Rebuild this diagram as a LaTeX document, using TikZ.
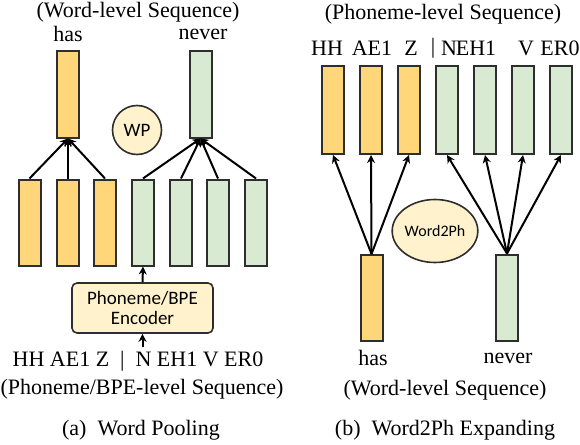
\documentclass[tikz,border=0pt]{standalone}
\usepackage{fontspec}
\setmainfont{Liberation Serif}
\newfontfamily\boxfont{Carlito}
\usepackage{tikz}
\usetikzlibrary{arrows.meta,positioning,shapes.geometric}
\definecolor{wordor}{HTML}{FFD67A}
\definecolor{phongr}{HTML}{D9EAD3}
\definecolor{poolfill}{HTML}{FFF2CC}
\definecolor{gris}{HTML}{2E2E2E}
\tikzset{
  bar/.style={draw=gris,line width=2pt,minimum width=22pt,minimum height=86pt,inner sep=0pt},
  orbar/.style={bar,fill=wordor},
  grbar/.style={bar,fill=phongr},
  conn/.style={-{Stealth[length=8pt,width=8pt]},line width=2pt},
  poolop/.style={draw=gris,line width=1.6pt,fill=poolfill,inner sep=0pt,font=\boxfont\fontsize{19}{22}\selectfont}
}
\newcommand{\bigtxt}{\fontsize{22}{26}\selectfont}

\begin{document}
\begin{tikzpicture}[x=1pt,y=-1pt,font=\bigtxt]
    \useasboundingbox (0,0) rectangle (580,444);
    % (a) word pooling
    \begin{scope}
      \node[orbar] (lh) at (68,94.5) {};
      \node[grbar] (ln) at (200.5,94.5) {};
      \node (lhas) at (68,34) {has};
      \node (lnever) at (203,34) {never};
      \node (ltop) at (138,12) {(Word-level Sequence)};
      \node[orbar] (lb1) at (29.5,222.5) {};
      \node[orbar] (lb2) at (68,222.5) {};
      \node[orbar] (lb3) at (105,222.5) {};
      \node[grbar] (lb4) at (143,222.5) {};
      \node[grbar] (lb5) at (181,222.5) {};
      \node[grbar] (lb6) at (218,222.5) {};
      \node[grbar] (lb7) at (256,222.5) {};
      \node[poolop,circle,minimum size=49pt] (wp) at (137,130) {WP};
      \foreach \i in {1,2,3} \draw[conn] (lb\i.north) -- (lh.south);
      \foreach \i in {4,5,6,7} \draw[conn] (lb\i.north) -- (ln.south);
      \node[poolop,rounded corners=5pt,minimum width=141pt,minimum height=50pt,align=center] (enc) at (142.5,308) {Phoneme/BPE\\[-2pt]Encoder};
      \node (lseq) at (138,361) {HH AE1 Z~~|~~N EH1 V ER0};
      \node (lcap) at (142,389) {(Phoneme/BPE-level Sequence)};
      \draw[conn] (enc.north) -- (lb4.south);
      \draw[conn] (enc.south |- lseq.north) -- (enc.south);
      \node (capa) at (141,430) {(a)\enspace Word Pooling};
    \end{scope}
    % (b) word2ph expanding
    \begin{scope}
      \node (rtop) at (443,14) {(Phoneme-level Sequence)};
      \node[orbar,minimum height=88pt] (rp1) at (333,110) {};
      \node[orbar,minimum height=88pt] (rp2) at (371,110) {};
      \node[orbar,minimum height=88pt] (rp3) at (409,110) {};
      \node[grbar,minimum height=88pt] (rp4) at (447,110) {};
      \node[grbar,minimum height=88pt] (rp5) at (485,110) {};
      \node[grbar,minimum height=88pt] (rp6) at (523,110) {};
      \node[grbar,minimum height=88pt] (rp7) at (561,110) {};
      \node (phhh) at (327,48) {HH};
      \node (phae) at (372,48) {AE1};
      \node (phz) at (411,48) {Z};
      \node (phsep) at (433,48) {|};
      \node (phn) at (449,48) {N};
      \node (pheh) at (476,48) {EH1};
      \node (phv) at (526,48) {V};
      \node (pher) at (560,48) {ER0};
      \node[orbar] (rh) at (371.5,298) {};
      \node[grbar] (rn) at (507,297.5) {};
      \node[poolop,ellipse,minimum width=73pt,minimum height=63pt,font=\boxfont\fontsize{16}{18}\selectfont] (w2p) at (435,231) {Word2Ph};
      \foreach \i in {1,2,3} \draw[conn] (rh.north) -- (rp\i.south);
      \foreach \i in {4,5,6,7} \draw[conn] (rn.north) -- (rp\i.south);
      \node (rhas) at (373,358) {has};
      \node (rnever) at (508,358) {never};
      \node (rbot) at (445,390) {(Word-level Sequence)};
      \node (capb) at (445,430) {(b)\enspace Word2Ph Expanding};
    \end{scope}
  \end{tikzpicture}
\end{document}
